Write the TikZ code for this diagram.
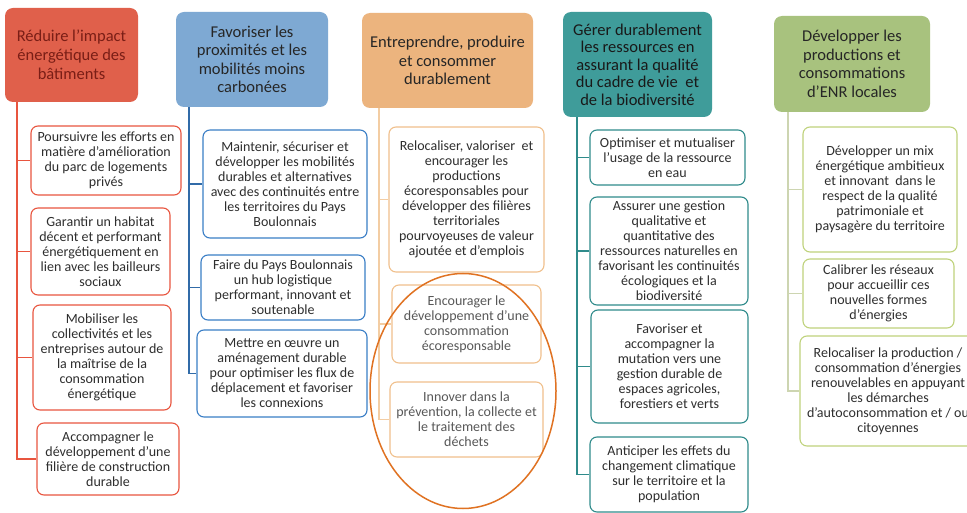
\documentclass[tikz,border=0pt]{standalone}
\usepackage{fontspec}
\usetikzlibrary{shapes.geometric}
\setmainfont{Carlito}
\definecolor{redF}{HTML}{E0604B}
\definecolor{redL}{HTML}{E8553F}
\definecolor{redT}{HTML}{7A1E16}
\definecolor{bluF}{HTML}{7EA9D3}
\definecolor{bluL}{HTML}{3A7EC6}
\definecolor{oraF}{HTML}{ECB47E}
\definecolor{oraL}{HTML}{F0C08C}
\definecolor{teaF}{HTML}{3F9C9A}
\definecolor{teaL}{HTML}{2F8B8B}
\definecolor{greF}{HTML}{A8C27E}
\definecolor{greL}{HTML}{BFD27C}
\definecolor{txt}{HTML}{2E2E2E}
\definecolor{ell}{HTML}{E07222}
\tikzset{
  hdr/.style={rounded corners=8pt, align=center, text=black!85, font=\fontsize{16.5}{18.5}\selectfont, inner sep=2pt},
  kid/.style={draw, rounded corners=7pt, fill=white, align=center, text=txt, font=\fontsize{14}{15}\selectfont, line width=1.1pt, inner sep=1pt},
  trunk/.style={line width=1.1pt},
}
\begin{document}
\begin{tikzpicture}[x=1pt,y=-1pt]
\useasboundingbox (0,0) rectangle (967,513);
\fill[white] (0,0) rectangle (967,513);

% ---------------- column 1
\node[hdr, fill=redF, text=redT, font=\fontsize{16.5}{19}\selectfont, minimum width=133, minimum height=94] (h1) at (71.5,55) {Réduire l’impact\\énergétique des\\bâtiments};
\node[kid, draw=redL, minimum width=150, minimum height=69] (r1) at (106,160.5) {Poursuivre les efforts en\\matière d’amélioration\\du parc de logements\\privés};
\node[kid, draw=redL, minimum width=139, minimum height=87] (r2) at (100.5,251.5) {Garantir un habitat\\décent et performant\\énergétiquement en\\lien avec les bailleurs\\sociaux};
\node[kid, draw=redL, minimum width=138, minimum height=105] (r3) at (102,357.5) {Mobiliser les\\collectivités et les\\entreprises autour de\\la maîtrise de la\\consommation\\énergétique};
\node[kid, draw=redL, minimum width=142, minimum height=72] (r4) at (108,459) {Accompagner le\\développement d’une\\filière de construction\\durable};
\coordinate (x1) at (17,0);
\foreach \k in {r1,r2,r3,r4}{\draw[trunk, redL] (h1.south -| x1) |- (\k.west);}

% ---------------- column 2
\node[hdr, fill=bluF, minimum width=152, minimum height=95] (h2) at (252,59.5) {Favoriser les\\proximités et les\\mobilités moins\\carbonées};
\node[kid, draw=bluL, minimum width=164, minimum height=108] (b1) at (285,184) {Maintenir, sécuriser et\\développer les mobilités\\durables et alternatives\\avec des continuités entre\\les territoires du Pays\\Boulonnais};
\node[kid, draw=bluL, minimum width=164, minimum height=65] (b2) at (283,287.5) {Faire du Pays Boulonnais\\un hub logistique\\performant, innovant et\\soutenable};
\node[kid, draw=bluL, minimum width=170, minimum height=87] (b3) at (282,373.5) {Mettre en œuvre un\\aménagement durable\\pour optimiser les flux de\\déplacement et favoriser\\les connexions};
\coordinate (x2) at (189,0);
\foreach \k in {b1,b2,b3}{\draw[trunk, bluL!85!black] (h2.south -| x2) |- (\k.west);}

% ---------------- column 3
\node[hdr, fill=oraF, minimum width=171, minimum height=95] (h3) at (447.5,60.5) {Entreprendre, produire\\et consommer\\durablement};
\node[kid, draw=oraL, minimum width=155, minimum height=145] (o1) at (466.5,199.5) {Relocaliser, valoriser~ et\\encourager les\\productions\\écoresponsables pour\\développer des filières\\territoriales\\pourvoyeuses de valeur\\ajoutée et d’emplois};
\node[kid, draw=oraL, text=txt!80, minimum width=149, minimum height=78] (o2) at (466.5,324) {Encourager le\\développement d’une\\consommation\\écoresponsable};
\node[kid, draw=oraL, text=txt!80, minimum width=153, minimum height=75] (o3) at (466.5,419.5) {Innover dans la\\prévention, la collecte et\\le traitement des\\déchets};
\coordinate (x3) at (379,0);
\foreach \k in {o1,o2,o3}{\draw[trunk, oraL!80] (h3.south -| x3) |- (\k.west);}
\node[draw=ell, line width=1.5pt, ellipse, minimum width=186, minimum height=235] (el) at (463,391) {};

% ---------------- column 4
\node[hdr, fill=teaF, text=black!90, font=\fontsize{16.5}{17.5}\selectfont, minimum width=149, minimum height=105] (h4) at (637.5,64.5) {Gérer durablement\\les ressources en\\assurant la qualité\\du cadre de vie~ et\\de la biodiversité};
\node[kid, draw=teaL, minimum width=155, minimum height=55] (g1) at (667.5,157.5) {Optimiser et mutualiser\\l’usage de la ressource\\en eau};
\node[kid, draw=teaL, minimum width=158, minimum height=108] (g2) at (669,251) {Assurer une gestion\\qualitative et\\quantitative des\\ressources naturelles en\\favorisant les continuités\\écologiques et la\\biodiversité};
\node[kid, draw=teaL, minimum width=157, minimum height=113] (g3) at (669.5,366.5) {Favoriser et\\accompagner la\\mutation vers une\\gestion durable de\\espaces agricoles,\\forestiers et verts};
\node[kid, draw=teaL, minimum width=158, minimum height=75] (g4) at (669,474.5) {Anticiper les effets du\\changement climatique\\sur le territoire et la\\population};
\coordinate (x4) at (577,0);
\foreach \k in {g1,g2,g3,g4}{\draw[trunk, teaL] (h4.south -| x4) |- (\k.west);}

% ---------------- column 5
\node[hdr, fill=greF, minimum width=156, minimum height=96] (h5) at (852,64) {Développer les\\productions et\\consommations\\d’ENR locales};
\node[kid, draw=greL, minimum width=154, minimum height=125] (e1) at (880,189.5) {Développer un mix\\énergétique ambitieux\\et innovant~ dans le\\respect de la qualité\\patrimoniale et\\paysagère du territoire};
\node[kid, draw=greL, minimum width=151, minimum height=69] (e2) at (878.5,293.5) {Calibrer les réseaux\\pour accueillir ces\\nouvelles formes\\d’énergies};
\node[kid, draw=greL, minimum width=176, minimum height=110] (e3) at (888,391) {Relocaliser la production /\\consommation d’énergies\\renouvelables en appuyant\\les démarches\\d’autoconsommation et / ou\\citoyennes};
\coordinate (x5) at (788,0);
\foreach \k in {e1,e2,e3}{\draw[trunk, greL!70!gray!60] (h5.south -| x5) |- (\k.west);}
\end{tikzpicture}
\end{document}
